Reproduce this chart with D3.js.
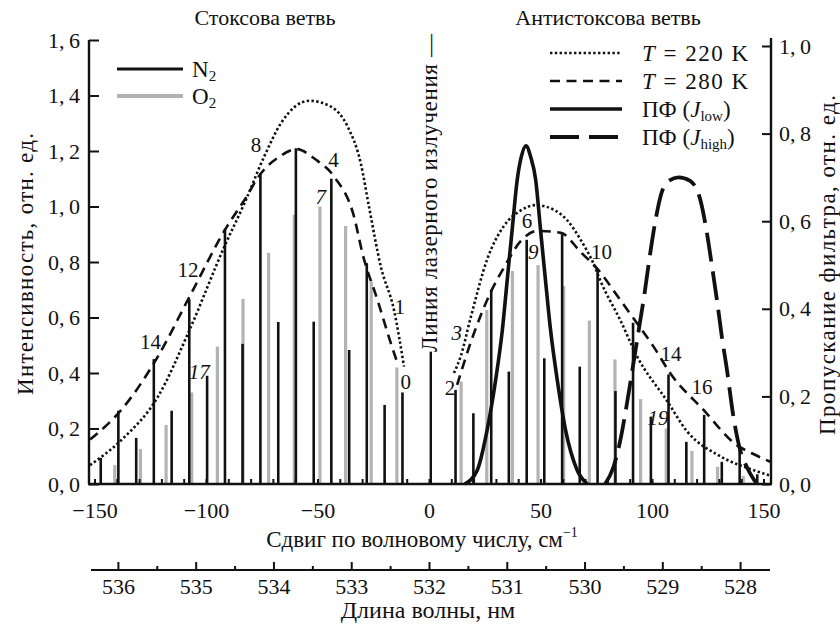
<!DOCTYPE html>
<html><head><meta charset="utf-8">
<script src="https://cdn.jsdelivr.net/npm/d3@7"></script>
<style>
body{margin:0;background:#fff}
svg{display:block}
text{font-family:"Liberation Serif","Times New Roman",serif;fill:#111}
</style>
</head><body>
<svg id="c" width="840" height="628"></svg>
<script>
// ---------- DATA ----------
// N2 Stokes lines (shift cm-1, intensity)
const n2StokesShift = [-11.9,-19.9,-27.9,-35.8,-43.8,-51.7,-59.7,-67.6,-75.6,-83.6,-91.5,-99.5,-107.5,-115.4,-123.4,-131.3,-139.3,-147.2];
const n2StokesInt   = [0.33,0.285,0.796,0.483,1.10,0.585,1.21,0.584,1.12,0.505,0.92,0.39,0.666,0.264,0.45,0.166,0.264,0.094];
// O2 Stokes lines
const o2StokesShift = [-14.4,-25.9,-37.4,-48.9,-60.4,-71.9,-83.4,-94.9,-106.4,-117.9,-129.4,-140.9];
const o2StokesInt   = [0.42,0.73,0.93,1.0,0.97,0.833,0.667,0.495,0.33,0.213,0.126,0.068];
// N2 anti-Stokes lines
const n2AntiShift = [11.9,19.9,27.9,35.8,43.8,51.7,59.7,67.6,75.6,83.6,91.5,99.5,107.4,115.4,123.4,131.3,139.3,147.2];
const n2AntiInt   = [0.339,0.255,0.70,0.405,0.88,0.453,0.90,0.423,0.777,0.335,0.581,0.243,0.395,0.152,0.249,0.08,0.128,0.035];
// O2 anti-Stokes lines
const o2AntiShift = [14.4,25.9,37.4,48.9,60.4,71.9,83.4,94.9,106.4,117.9,129.4,140.9];
const o2AntiInt   = [0.369,0.627,0.768,0.789,0.713,0.589,0.449,0.306,0.20,0.119,0.062,0.029];
// laser line marker
const laserShift = [0.8];
const laserInt = [0.477];

// envelopes (left axis)
const t220Stokes = [[-152,0.068],[-138,0.158],[-121.6,0.314],[-107.4,0.555],[-91.8,0.855],[-82.8,1.011],[-73.9,1.18],[-66.4,1.30],[-53.7,1.381],[-44,1.36],[-36.5,1.288],[-30.6,1.156],[-26.9,0.999],[-21.6,0.783],[-15.7,0.627],[-11.2,0.423]];
const t280Stokes = [[-152,0.16],[-138,0.267],[-121.6,0.459],[-107.4,0.675],[-90.2,0.933],[-82.8,1.023],[-75.3,1.12],[-67,1.18],[-59.4,1.207],[-51,1.17],[-42.5,1.107],[-33.6,0.963],[-29.8,0.83],[-23.1,0.663],[-17.1,0.507],[-14.1,0.435]];
const t220Anti = [[11.2,0.40],[14.2,0.46],[18.7,0.60],[26.1,0.81],[33.6,0.93],[41,0.985],[47.8,1.005],[56.7,0.985],[62,0.95],[68,0.88],[74,0.79],[77,0.73],[85.8,0.59],[93.3,0.46],[106.7,0.30],[115.7,0.19],[130.6,0.10],[145.5,0.05],[153,0.03]];
const t280Anti = [[12.6,0.357],[18.7,0.51],[27.6,0.69],[33.6,0.78],[41.1,0.875],[48.6,0.912],[59.1,0.905],[68.1,0.835],[75.5,0.775],[85.8,0.663],[93.3,0.579],[100.7,0.495],[108.2,0.399],[123.1,0.267],[138,0.14],[145,0.11],[153,0.08]];
// filter transmission (right axis)
const filterLow = [[16,0],[21.7,0.032],[26.1,0.124],[29.9,0.238],[32.9,0.352],[35.1,0.467],[37.3,0.581],[39.6,0.696],[41.3,0.745],[43.5,0.772],[45.7,0.745],[47.8,0.696],[50.0,0.581],[52.2,0.467],[54.5,0.352],[57.5,0.238],[61.2,0.124],[66.4,0.032],[71,0]];
const filterHigh = [[79,0],[82.8,0.04],[85.8,0.10],[88.8,0.185],[91.5,0.27],[94,0.35],[96.5,0.43],[99,0.52],[101.5,0.60],[104,0.66],[107,0.69],[111.9,0.70],[117.1,0.692],[121.6,0.65],[124.6,0.574],[126.9,0.497],[129.1,0.421],[131.3,0.337],[133.6,0.261],[136.5,0.154],[139.5,0.078],[143.2,0.032],[147,0]];

// rotational quantum number labels [text, shift, intensity]
const n2Labels = [["8",-77.6,1.222],["4",-42.8,1.168],["12",-108.1,0.771],["14",-124.9,0.513],["1",-13.1,0.639],["0",-10.4,0.369],
                  ["2",9.4,0.345],["6",44.0,0.949],["10",77.3,0.837],["14",108.5,0.468],["16",122.4,0.351]];
const o2Labels = [["7",-48.5,1.035],["17",-103.0,0.405],["3",12.4,0.543],["9",46.7,0.837],["19",102.7,0.237]];

// ticks
const xTicks = [-150,-100,-50,0,50,100,150];
const yLTicks = [0,0.2,0.4,0.6,0.8,1.0,1.2,1.4,1.6];
const yRTicks = [0,0.2,0.4,0.6,0.8,1.0];
const wlTicks = [536,535,534,533,532,531,530,529,528];

// ---------- CHART ----------
const svg = d3.select("#c");
const x = d3.scaleLinear().domain([-150,150]).range([94.5,763.5]);
const yL = d3.scaleLinear().domain([0,1.6]).range([484,40]);
const yR = d3.scaleLinear().domain([0,1.0]).range([484,46]);
const wl = d3.scaleLinear().domain([536,528]).range([x(-139.5),x(139.5)]);
const X0 = 89, X1 = 771, Y0 = 484;
const fmt = d => d.toFixed(1).replace('.', ',\u2009');

// bars
function bars(sh, v, color, w){
  svg.append("g").selectAll("line").data(sh.map((s,i)=>[s,v[i]])).join("line")
    .attr("x1",d=>x(d[0])).attr("x2",d=>x(d[0]))
    .attr("y1",yL(0)).attr("y2",d=>yL(d[1]))
    .attr("stroke",color).attr("stroke-width",w);
}
bars(o2StokesShift,o2StokesInt,"#b3b3b3",3.2);
bars(o2AntiShift,o2AntiInt,"#b3b3b3",3.2);
bars(n2StokesShift,n2StokesInt,"#111",2.6);
bars(n2AntiShift,n2AntiInt,"#111",2.6);
bars(laserShift,laserInt,"#111",2.4);

// curves
const lineL = d3.line().x(d=>x(d[0])).y(d=>yL(d[1])).curve(d3.curveMonotoneX);
const lineR = d3.line().x(d=>x(d[0])).y(d=>yR(d[1])).curve(d3.curveMonotoneX);
const dotted = {w:2.6,da:"2.4,2.4"}, dashed={w:2.6,da:"10,6.5"}, solid={w:3.6,da:null}, longd={w:3.8,da:"29,10"};
function curve(data, gen, st){
  svg.append("path").datum(data).attr("d",gen).attr("fill","none")
    .attr("stroke","#111").attr("stroke-width",st.w).attr("stroke-dasharray",st.da);
}
curve(t220Stokes,lineL,dotted);
curve(t280Stokes,lineL,dashed);
curve(t220Anti,lineL,dotted);
curve(t280Anti,lineL,dashed);
curve(filterLow,lineR,solid);
curve(filterHigh,lineR,longd);

// axes
const gL = svg.append("g").attr("transform",`translate(${X0},0)`)
  .call(d3.axisLeft(yL).tickValues(yLTicks).tickSize(-10).tickSizeOuter(0).tickPadding(9).tickFormat(fmt));
const gR = svg.append("g").attr("transform",`translate(${X1},0)`)
  .call(d3.axisRight(yR).tickValues(yRTicks).tickSize(-9).tickSizeOuter(0).tickPadding(8).tickFormat(fmt));
const gX = svg.append("g").attr("transform",`translate(0,${Y0})`)
  .call(d3.axisBottom(x).tickValues(xTicks).tickSize(0).tickPadding(18).tickFormat(d=>d<0?"\u2212"+Math.abs(d):d));
const gXm = svg.append("g").attr("transform",`translate(0,${Y0})`)
  .call(d3.axisBottom(x).tickValues(d3.range(-150,151,10)).tickSize(-5).tickFormat(""));
const gW = svg.append("g").attr("transform",`translate(0,570)`)
  .call(d3.axisBottom(wl).tickValues(wlTicks).tickSize(-8).tickPadding(8).tickFormat(d=>d));
const gWm = svg.append("g").attr("transform",`translate(0,570)`)
  .call(d3.axisBottom(wl).tickValues(d3.range(535.5,528,-1)).tickSize(-4).tickFormat(""));
[gL,gR,gX,gXm,gW,gWm].forEach(g=>{
  g.selectAll(".domain").remove();
  g.selectAll(".tick line").attr("stroke","#111").attr("stroke-width",2);
  g.selectAll("text").attr("font-family","Liberation Serif").attr("font-size",22).attr("fill","#111");
});
svg.append("line").attr("x1",X0).attr("x2",X0).attr("y1",yL(1.6)).attr("y2",Y0).attr("stroke","#111").attr("stroke-width",2.4);
svg.append("line").attr("x1",X1).attr("x2",X1).attr("y1",yL(1.6)-2).attr("y2",Y0).attr("stroke","#111").attr("stroke-width",2.4);
svg.append("line").attr("x1",X0-1).attr("x2",X1+1).attr("y1",Y0).attr("y2",Y0).attr("stroke","#111").attr("stroke-width",2.4);
svg.append("line").attr("x1",91).attr("x2",770).attr("y1",570).attr("y2",570).attr("stroke","#111").attr("stroke-width",2);

// J labels
svg.append("g").selectAll("text").data(n2Labels).join("text")
  .attr("x",d=>x(d[1])).attr("y",d=>yL(d[2])).attr("text-anchor","middle").attr("dominant-baseline","central")
  .attr("font-size",21).text(d=>d[0]);
svg.append("g").selectAll("text").data(o2Labels).join("text")
  .attr("x",d=>x(d[1])).attr("y",d=>yL(d[2])).attr("text-anchor","middle").attr("dominant-baseline","central")
  .attr("font-size",21).attr("font-style","italic").text(d=>d[0]);

// titles
const T = (t,xx,yy,opt={}) => {
  const e = svg.append("text").attr("x",xx).attr("y",yy).attr("font-size",opt.fs||22)
    .attr("text-anchor",opt.anchor||"middle").text(t);
  if(opt.len) e.attr("textLength",opt.len).attr("lengthAdjust","spacing");
  if(opt.rot) e.attr("transform",`rotate(-90,${xx},${yy})`);
  return e;
};
T("Стоксова ветвь",265,25,{fs:22});
T("Антистоксова ветвь",608,25,{fs:22});
T("Интенсивность, отн. ед.",33,264,{fs:23,rot:true,len:262});
T("Пропускание фильтра, отн. ед.",835,265,{fs:23,rot:true,len:340});
T("Линия лазерного излучения —",437,352,{fs:23,rot:true,anchor:"start",len:318});
const xl = T("Сдвиг по волновому числу, см",422,547,{fs:23});
xl.append("tspan").attr("font-size",14).attr("dy",-10).text("\u22121");
T("Длина волны, нм",428,618,{fs:24});

// legend left
const legL = [["N","#111",3,69],["O","#b3b3b3",4,96]];
legL.forEach(([s,c,w,yy])=>{
  svg.append("line").attr("x1",117).attr("x2",183).attr("y1",yy).attr("y2",yy).attr("stroke",c).attr("stroke-width",w);
  const t = svg.append("text").attr("x",192).attr("y",yy+8).attr("font-size",23).text(s);
  t.append("tspan").attr("font-size",15).attr("dy",4).text("2");
});
// legend right
const legR = [[dotted,53],[dashed,81],[solid,109],[longd,137]];
legR.forEach(([st,yy])=>{
  svg.append("line").attr("x1",550).attr("x2",622).attr("y1",yy).attr("y2",yy)
    .attr("stroke","#111").attr("stroke-width",st.w).attr("stroke-dasharray",st.da);
});
function tLabel(yy,val){
  const t = svg.append("text").attr("x",642).attr("y",yy+8).attr("font-size",23)
    .attr("textLength",106).attr("lengthAdjust","spacing");
  t.append("tspan").attr("font-style","italic").text("T");
  t.append("tspan").text(" = "+val+" K");
}
tLabel(53,"220"); tLabel(81,"280");
function fLabel(yy,sub,len){
  const t = svg.append("text").attr("x",642).attr("y",yy+8).attr("font-size",23);
  t.append("tspan").text("ПФ (");
  t.append("tspan").attr("font-style","italic").text("J");
  t.append("tspan").attr("font-size",15).attr("dy",4).text(sub);
  t.append("tspan").attr("dy",-4).text(")");
}
fLabel(109,"low"); fLabel(137,"high");
</script>
</body></html>
